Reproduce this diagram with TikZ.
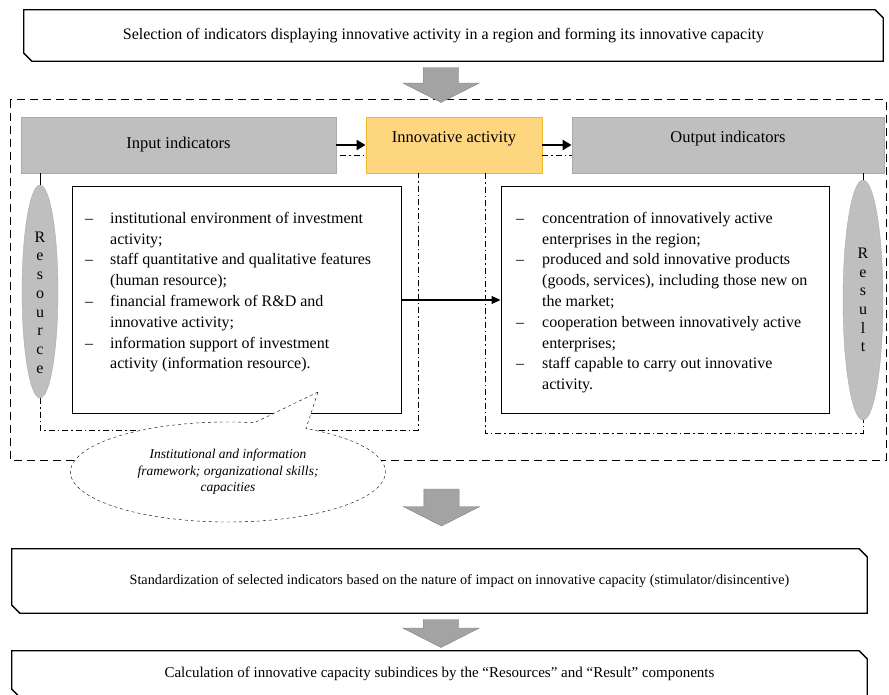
\documentclass[tikz,border=0pt]{standalone}
\usepackage{fontspec}
\setmainfont{Liberation Serif}
\usetikzlibrary{shapes.arrows, shapes.geometric, shapes.callouts, arrows.meta}

\definecolor{boxgray}{RGB}{191,191,191}
\definecolor{edgegray}{RGB}{170,170,170}
\definecolor{arrowgray}{RGB}{163,163,163}
\definecolor{innovfill}{RGB}{255,214,128}
\definecolor{innovedge}{RGB}{242,183,40}

\tikzset{
  chamline/.style={line width=1.3pt, line join=miter},
  headbox/.style={fill=boxgray, draw=edgegray, line width=0.8pt, minimum height=56pt, align=center, font=\fontsize{16.5}{20}\selectfont},
  listbox/.style={draw, line width=1pt, minimum height=226pt},
  listtext/.style={anchor=north west, inner sep=0pt, font=\fontsize{16}{20.8}\selectfont},
  sidebar/.style={ellipse, fill=boxgray, draw=edgegray, inner sep=0pt},
  sidetext/.style={align=center, inner sep=0pt, font=\fontsize{16}{18.7}\selectfont},
  blockarrow/.style={single arrow, shape border rotate=270, fill=arrowgray, draw=gray, inner xsep=17.5pt, inner ysep=0pt,
    minimum width=76pt, single arrow head extend=20.5pt, single arrow tip angle=126},
  ddline/.style={dash pattern=on 6pt off 3pt on 1.5pt off 3pt, line width=0.8pt},
  fatarrow/.style={line width=2.2pt, -{Triangle[length=9pt, width=10pt]}}
}

\begin{document}
\begin{tikzpicture}[x=1pt, y=-1pt]
  \useasboundingbox (0,0) rectangle (889,695);
  % steps of the procedure
  \node (sel) [minimum width=859pt, minimum height=51pt, font=\fontsize{16}{19}\selectfont] at (453.5,35.5)
    {Selection of indicators displaying innovative activity in a region and forming its innovative capacity\hspace*{20pt}};
  \node (std) [minimum width=855pt, minimum height=64pt, font=\fontsize{14.2}{18}\selectfont] at (439.5,581)
    {\hspace*{40pt}Standardization of selected indicators based on the nature of impact on innovative capacity (stimulator/disincentive)};
  \node (calc) [minimum width=855pt, minimum height=46pt, font=\fontsize{15}{18}\selectfont] at (439.5,674)
    {Calculation of innovative capacity subindices by the ``Resources'' and ``Result'' components};
  \foreach \n in {sel, std, calc}
    \draw[chamline] (\n.north west) -- ([xshift=-8pt]\n.north east) -- ([yshift=-8pt]\n.north east)
      -- (\n.south east) -- ([xshift=8pt]\n.south west) -- ([yshift=8pt]\n.south west) -- cycle;

  \draw[line width=1pt, dash pattern=on 8pt off 5pt] (10,100) rectangle (886,460);

  % indicator groups
  \node (input) [headbox, minimum width=315pt] at (178.5,145) {Input indicators};
  \node (innov) [headbox, minimum width=176pt, fill=innovfill, draw=innovedge] at (454,145) {Innovative activity\\[-10pt] \strut};
  \node (output) [headbox, minimum width=312pt] at (728,145) {Output indicators\\[-10pt] \strut};
  \draw[fatarrow] (input.east) -- (innov.west);
  \draw[fatarrow] (innov.east) -- (output.west);
  \draw[ddline] ([xshift=4pt, yshift=-10pt]input.east) -- ([yshift=-10pt]innov.west);
  \draw[ddline] ([yshift=-10pt]innov.east) -- ([yshift=-10pt]output.west);

  \node (inlist) [listbox, minimum width=329pt] at (236.5,300) {};
  \node (outlist) [listbox, minimum width=328pt] at (665,300) {};
  \node (intext) [listtext] at (85,208.5) {\begin{tabular}{@{}p{25pt}@{}l@{}}
    -- & institutional environment of investment\\
       & activity;\\
    -- & staff quantitative and qualitative features\\
       & (human resource);\\
    -- & financial framework of R\&D and\\
       & innovative activity;\\
    -- & information support of investment\\
       & activity (information resource).
  \end{tabular}};
  \node (outtext) [listtext] at (516,208.5) {\begin{tabular}{@{}p{26pt}@{}l@{}}
    -- & concentration of innovatively active\\
       & enterprises in the region;\\
    -- & produced and sold innovative products\\
       & (goods, services), including those new on\\
       & the market;\\
    -- & cooperation between innovatively active\\
       & enterprises;\\
    -- & staff capable to carry out innovative\\
       & activity.
  \end{tabular}};
  \draw[-{Triangle[length=9pt, width=8pt]}, line width=1.2pt] (inlist.east) -- (outlist.west);

  \node (res) [sidebar, minimum width=36pt, minimum height=213pt] at (40,291.5) {};
  \node (resl) [sidebar, minimum width=40pt, minimum height=240pt] at (863,300) {};
  \node (restext) [sidetext] at ([yshift=-11pt]res.center) {R\\e\\s\\o\\u\\r\\c\\e};
  \node (resltext) [sidetext] at (resl.center) {R\\e\\s\\u\\l\\t};
  \draw[line width=0.8pt] (res.north) -- (res.north |- input.south);
  \draw[line width=0.8pt] (resl.north) -- (resl.north |- output.south);

  \coordinate (cL) at (418,430);
  \coordinate (cR) at (485,433);
  \draw[ddline] (res.south) |- (cL) -- (cL |- innov.south);
  \draw[ddline] (cR |- innov.south) -- (cR) -| (resl.south);

  \coordinate (tip) at (318,392);
  \node (note) [ellipse callout, draw, dashed, fill=white, minimum width=315pt, minimum height=100pt,
    callout absolute pointer={(tip)}, callout pointer arc=20, align=center,
    font=\itshape\fontsize{13.5}{16.5}\selectfont] at (228,472)
    {Institutional and information\\framework; organizational skills;\\capacities};

  % block arrows between steps
  \node (a1) [blockarrow, minimum height=35pt] at (441,80.5) {};
  \node (a2) [blockarrow, minimum height=37pt] at (441.5,503) {};
  \node (a3) [blockarrow, minimum height=28pt] at (441,629) {};
\end{tikzpicture}
\end{document}
